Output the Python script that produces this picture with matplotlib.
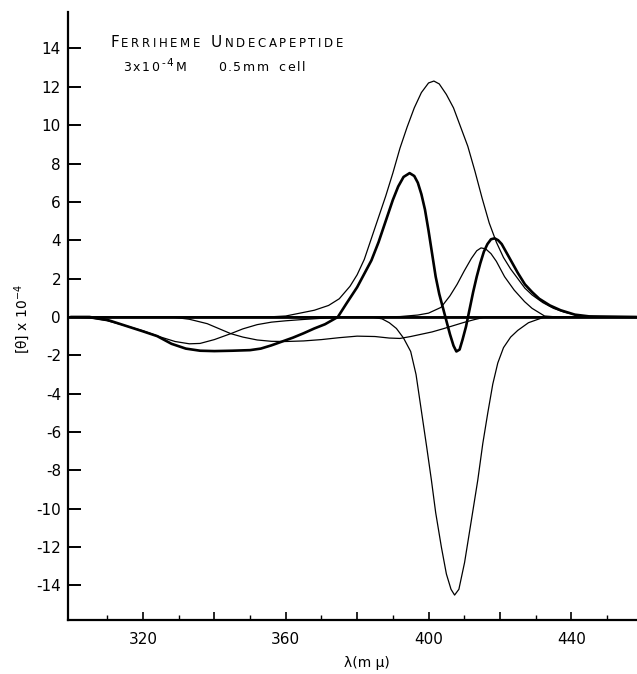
import numpy as np
import matplotlib
matplotlib.use("Agg")
import matplotlib.pyplot as plt

# wavelength (m mu) and [theta] x 10^-4
# thick trace: measured CD curve
obs_wl = [300, 305, 310, 315, 320, 324, 328, 332, 336, 340, 345, 350, 353, 356, 359,
          362, 365, 368, 371, 374.6, 377, 380, 382, 384, 386, 388, 390, 391.5, 393,
          394.7, 396, 397, 398, 399, 400, 401, 402, 403, 404, 405, 406, 407, 407.8,
          408.7, 409.5, 410.5, 411.5, 412.5, 413.5, 414.5, 415.5, 416.5, 417.5, 418.5,
          419.5, 420.5, 422, 423.5, 425, 427, 429, 431, 434, 437, 441, 445, 458]
obs_val = [0, 0, -0.15, -0.45, -0.75, -1.0, -1.4, -1.65, -1.76, -1.78, -1.76, -1.73,
           -1.65, -1.48, -1.28, -1.08, -0.85, -0.6, -0.38, 0, 0.7, 1.55, 2.25, 2.95, 3.9,
           5.0, 6.1, 6.8, 7.3, 7.5, 7.35, 7.0, 6.4, 5.6, 4.5, 3.3, 2.1, 1.2, 0.5, -0.2,
           -0.9, -1.5, -1.8, -1.7, -1.2, -0.5, 0.4, 1.3, 2.1, 2.8, 3.4, 3.8, 4.05, 4.1,
           4.0, 3.8, 3.3, 2.8, 2.3, 1.7, 1.3, 0.95, 0.6, 0.35, 0.12, 0.03, 0]

# thin traces: resolved bands
band_a_wl = [300, 355, 360, 364, 368, 372, 375, 378, 380, 382, 384, 386, 388, 390, 392,
             394, 396, 398, 400, 401.5, 403, 405, 407, 409, 411, 413, 415, 417, 419, 421,
             423, 425, 427, 429, 432, 435, 438, 442, 446, 458]
band_a_val = [0, 0, 0.05, 0.2, 0.35, 0.6, 0.95, 1.6, 2.2, 3.0, 4.1, 5.2, 6.3, 7.5, 8.8,
              9.9, 10.9, 11.7, 12.2, 12.3, 12.15, 11.6, 10.9, 9.9, 8.9, 7.6, 6.2, 4.9,
              3.9, 3.1, 2.5, 2.0, 1.5, 1.15, 0.75, 0.45, 0.25, 0.08, 0.02, 0]

band_c_wl = [300, 305, 310, 315, 320, 325, 329, 333, 336, 340, 344.6, 348, 352, 356, 360,
             365, 370, 375, 380, 458]
band_c_val = [0, -0.05, -0.2, -0.45, -0.72, -1.05, -1.28, -1.4, -1.38, -1.18, -0.87,
              -0.62, -0.4, -0.27, -0.2, -0.13, -0.07, -0.02, 0, 0]

band_e_wl = [300, 328, 333, 338, 344.6, 348, 352, 356, 360, 365, 370, 375, 380, 385, 389,
             392, 395, 398, 401, 404, 407, 410, 413, 416, 420, 458]
band_e_val = [0, 0, -0.12, -0.35, -0.87, -1.05, -1.2, -1.27, -1.28, -1.25, -1.18, -1.08,
              -1.0, -1.02, -1.1, -1.12, -1.02, -0.9, -0.78, -0.62, -0.45, -0.28, -0.13,
              0, 0, 0]

band_f_wl = [300, 384, 387, 389, 391, 393, 395, 396.5, 398, 399.5, 400.8, 402, 403.6, 405,
             406.3, 407.3, 408.5, 410.1, 412, 413.8, 415.2, 416.6, 418, 419.4, 421, 423,
             425, 428, 432.5, 458]
band_f_val = [0, 0, -0.1, -0.3, -0.6, -1.1, -1.8, -3.0, -4.9, -6.8, -8.5, -10.2, -12.0,
              -13.4, -14.2, -14.5, -14.2, -12.8, -10.6, -8.5, -6.6, -5.0, -3.5, -2.4,
              -1.6, -1.05, -0.7, -0.3, 0, 0]

band_d_wl = [300, 385, 392, 397, 400, 403.5, 406, 408, 410, 412, 413.5, 414.7, 416, 417.5,
             419, 421.3, 424, 426.9, 429, 432.5, 436, 458]
band_d_val = [0, 0, 0.02, 0.1, 0.2, 0.5, 1.1, 1.7, 2.4, 3.05, 3.45, 3.6, 3.55, 3.3, 2.9,
              2.1, 1.4, 0.8, 0.45, 0.05, 0, 0]

x_major = [320, 340, 360, 380, 400, 420, 440]
x_labels = ["320", "", "360", "", "400", "", "440"]
x_minor = [310, 330, 350, 370, 390, 410, 430, 450]
y_ticks = list(range(-14, 15, 2))
y_labels = [str(v) for v in y_ticks]

W, H = 637, 674
fig = plt.figure(figsize=(W / 100, H / 100), dpi=100)
ax = fig.add_axes([68 / W, 54 / H, 569 / W, 608 / H])

thin = 0.9
ax.axhline(0, color="black", lw=2.0)
for wl, val in [(band_a_wl, band_a_val), (band_c_wl, band_c_val), (band_e_wl, band_e_val),
                (band_f_wl, band_f_val), (band_d_wl, band_d_val)]:
    ax.plot(wl, val, color="black", lw=thin)
ax.plot(obs_wl, obs_val, color="black", lw=1.9)

ax.set_xlim(299, 458.4)
ax.set_ylim(-15.8, 15.9)
for s in ["top", "right"]:
    ax.spines[s].set_visible(False)
ax.spines["left"].set_linewidth(1.6)
ax.spines["bottom"].set_linewidth(1.6)

ax.set_xticks(x_major)
ax.set_xticklabels(x_labels)
ax.set_xticks(x_minor, minor=True)
ax.set_yticks(y_ticks)
ax.set_yticklabels(y_labels)
ax.tick_params(axis="x", which="major", direction="in", length=6, width=1.2,
               labelsize=11, pad=9)
ax.tick_params(axis="x", which="minor", direction="in", length=3.5, width=1.0)
ax.tick_params(axis="y", direction="in", length=9, width=1.4, labelsize=11, pad=5)

# letter-spaced caption, drawn piece by piece in pixel units
renderer = fig.canvas.get_renderer()


def spaced(x, y, pieces, gap):
    for txt, size, dy in pieces:
        for ch in txt:
            t = fig.text(x / W, 1 - (y - dy) / H, ch, fontsize=size, ha="left",
                         va="baseline")
            x += t.get_window_extent(renderer).width + gap
    return x


x = 110
for word in ["FERRIHEME", "UNDECAPEPTIDE"]:
    x = spaced(x, 47, [(word[0], 11, 0), (word[1:], 8.5, 0)], 2.6)
    x += 8
x = spaced(123, 71, [("3x10", 9, 0), ("-4", 7.5, 5), ("M", 9, 0)], 1.8)
x = spaced(x + 30, 71, [("0.5mm", 9, 0)], 1.8)
spaced(x + 7, 71, [("cell", 9, 0)], 1.8)

fig.text(22 / W, 1 - 319 / H, "[θ] x 10$^{-4}$", rotation=90, ha="center",
         va="center", fontsize=10)
fig.text(367 / W, 1 - 663 / H, "λ(m μ)", ha="center", va="center", fontsize=10)

fig.savefig("out.png", dpi=100)
